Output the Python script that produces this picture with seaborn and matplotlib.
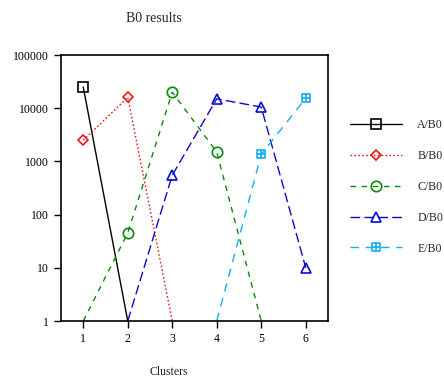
import numpy as np
import pandas as pd
import matplotlib
matplotlib.use("Agg")
import matplotlib.pyplot as plt
from matplotlib.path import Path
import seaborn as sns

clusters = [1, 2, 3, 4, 5, 6]
series_names = ["A/B0", "B/B0", "C/B0", "D/B0", "E/B0"]
a_b0 = [25000, 1, None, None, None, None]
b_b0 = [2500, 16000, 1, None, None, None]
c_b0 = [1, 45, 20000, 1500, 1, None]
d_b0 = [None, 1, 550, 15000, 10500, 10]
e_b0 = [None, None, None, 1, 1350, 15500]
y_ticks = [1, 10, 100, 1000, 10000, 100000]
y_tick_labels = ["1", "10", "100", "1000", "10000", "100000"]

box_plus = Path(
    [(-1, -1), (1, -1), (1, 1), (-1, 1), (-1, -1),
     (0, -1), (0, 1), (-1, 0), (1, 0)],
    [Path.MOVETO, Path.LINETO, Path.LINETO, Path.LINETO, Path.CLOSEPOLY,
     Path.MOVETO, Path.LINETO, Path.MOVETO, Path.LINETO])

colors = {"A/B0": "#000000", "B/B0": "#e8171a", "C/B0": "#0a8a0a",
          "D/B0": "#0a0ad0", "E/B0": "#12aef0"}
dashes = {"A/B0": "", "B/B0": (1.2, 1.6), "C/B0": (4, 4),
          "D/B0": (7, 3), "E/B0": (6, 5)}
markers = {"A/B0": "s", "B/B0": "D", "C/B0": "o", "D/B0": "^",
           "E/B0": box_plus}
msizes = {"A/B0": 7, "B/B0": 5, "C/B0": 7.5, "D/B0": 7.5, "E/B0": 6}

rows = []
for name, vals in zip(series_names, [a_b0, b_b0, c_b0, d_b0, e_b0]):
    for x, v in zip(clusters, vals):
        if v is not None:
            rows.append({"Clusters": x, "value": v, "series": name})
df = pd.DataFrame(rows)

sns.set_style("ticks")
plt.rcParams["font.family"] = ["Liberation Serif", "DejaVu Serif"]

fig = plt.figure(figsize=(4.44, 3.79), dpi=100)
ax = fig.add_axes([61/444, 1 - 321/379, 267/444, 266/379])

sns.lineplot(data=df, x="Clusters", y="value", hue="series", style="series",
             hue_order=series_names, style_order=series_names,
             palette=colors, dashes=dashes, markers=markers,
             linewidth=1.0, legend=False, ax=ax, estimator=None, sort=True)

ax.set_yscale("log")
ax.set_ylim(1, 100000)
ax.set_xlim(0.5, 6.5)
ax.set_xticks(clusters)
ax.set_xticklabels([str(c) for c in clusters], fontsize=8.5)
ax.set_yticks(y_ticks)
ax.set_yticklabels(y_tick_labels, fontsize=8.5)
ax.yaxis.set_minor_locator(matplotlib.ticker.NullLocator())
ax.tick_params(direction="out", length=5, width=1, colors="black", pad=4)
ax.set_xlabel("")
ax.set_ylabel("")
for s in ax.spines.values():
    s.set_visible(True)
    s.set_linewidth(1.2)
    s.set_color("black")

handles = []
for line, name in zip(ax.lines, series_names):
    ydata = np.asarray(line.get_ydata(), dtype=float)
    line.set_markevery([i for i, v in enumerate(ydata) if v > 1])
    line.set_markerfacecolor("none")
    line.set_markeredgecolor(colors[name])
    line.set_markeredgewidth(1.2)
    line.set_markersize(msizes[name])
    h = matplotlib.lines.Line2D([], [], color=colors[name], linewidth=1.0,
                                linestyle=line.get_linestyle(),
                                marker=markers[name], markersize=msizes[name],
                                markerfacecolor="none",
                                markeredgecolor=colors[name],
                                markeredgewidth=1.2)
    if dashes[name]:
        h.set_dashes(dashes[name])
    handles.append(h)

fig.legend(handles, series_names, loc="upper left",
           bbox_to_anchor=(350/444, 1 - 119/379), frameon=False,
           fontsize=8.5, handlelength=4.4, handletextpad=1.3,
           labelspacing=1.6, borderpad=0, borderaxespad=0)

fig.text(154/444, 1 - 19/379, "B0 results", ha="center", va="center",
         fontsize=10)
fig.text(169/444, 1 - 372/379, "Clusters", ha="center", va="center",
         fontsize=8.5)

fig.savefig("out.png", dpi=100)
